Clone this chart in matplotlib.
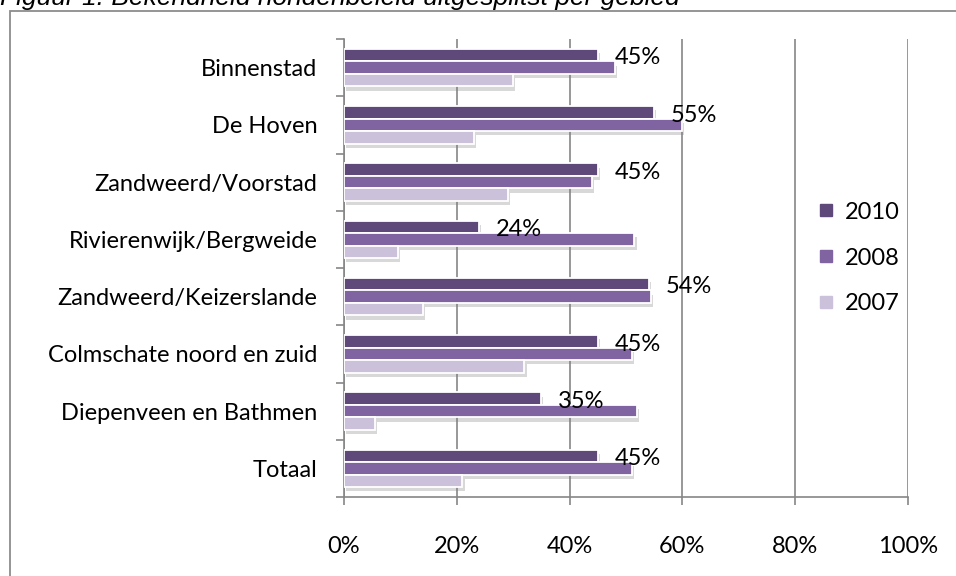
import matplotlib
matplotlib.use("Agg")
import matplotlib.pyplot as plt
import matplotlib.patheffects as pe
from matplotlib.lines import Line2D
from matplotlib.patches import Rectangle
import numpy as np

# data (share of respondents, %)
areas = ["Binnenstad", "De Hoven", "Zandweerd/Voorstad", "Rivierenwijk/Bergweide",
         "Zandweerd/Keizerslande", "Colmschate noord en zuid",
         "Diepenveen en Bathmen", "Totaal"]
years = ["2010", "2008", "2007"]
v2010 = [45, 55, 45, 24, 54, 45, 35, 45]
v2008 = [48, 60, 44, 51.5, 54.5, 51, 52, 51]
v2007 = [30, 23, 29, 9.5, 14, 32, 5.5, 21]
xticks = [0, 20, 40, 60, 80, 100]

COLORS = ["#5F497A", "#8064A2", "#CCC1DA"]
GRID = "#868686"
FONT = ["Lato", "DejaVu Sans"]
FS = 17

plt.rcParams["font.family"] = FONT

fig = plt.figure(figsize=(9.56, 5.76), dpi=100)
ax = fig.add_axes([344 / 956, 1 - 497 / 576, (908 - 344) / 956, (497 - 39) / 576])

# outer chart frame (cut off at the right/bottom of the picture)
fig.patches.append(Rectangle((10 / 956, -0.2), 1.2, 1 - 11 / 576 + 0.2,
                             transform=fig.transFigure, fill=False,
                             edgecolor="#8c8c8c", lw=1.3, zorder=0))
# caption above the chart, its top half is cut off in the source too
fig.text(0.0, 1 - 5 / 576, "Figuur 1: Bekendheid hondenbeleid uitgesplitst per gebied",
         family=["Liberation Sans", "DejaVu Sans"], style="italic", fontsize=19,
         va="baseline", ha="left")

y = np.arange(len(areas))
h = 0.218
shadow = [pe.SimplePatchShadow(offset=(1.5, -3), shadow_rgbFace="#7f7f7f", alpha=0.3),
          pe.Normal()]
series = [v2010, v2008, v2007]
for i, (vals, col) in enumerate(zip(series, COLORS)):
    bars = ax.barh(y + (i - 1) * h, vals, height=h, color=col, edgecolor="white",
                   linewidth=1.3, zorder=3)
    for b in bars:
        b.set_path_effects(shadow)

# value labels for 2010 only
for yi, v in zip(y, v2010):
    ax.annotate(f"{v:.0f}%", (v, yi - h), xytext=(12, -2), textcoords="offset points",
                va="center", ha="left", fontsize=FS, zorder=5)

ax.set_xlim(0, 100)
ax.set_ylim(len(areas) - 0.5, -0.5)
ax.set_xticks(xticks)
ax.set_xticklabels([f"{t}%" for t in xticks])
ax.set_yticks(y)
ax.set_yticklabels(areas)
ax.set_yticks(np.arange(len(areas) + 1) - 0.5, minor=True)

ax.grid(axis="x", color=GRID, lw=1.2, zorder=0)
ax.set_axisbelow(True)
for s in ["top", "right"]:
    ax.spines[s].set_visible(False)
for s in ["left", "bottom"]:
    ax.spines[s].set_color(GRID)
    ax.spines[s].set_linewidth(1.2)

ax.tick_params(axis="y", which="major", length=0, pad=19, labelsize=FS)
ax.tick_params(axis="y", which="minor", length=6, width=1.2, color=GRID)
ax.tick_params(axis="x", which="major", length=6, width=1.2, color=GRID, pad=22,
               labelsize=FS)

handles = [Line2D([], [], marker="s", ls="", color=c, markersize=8) for c in COLORS]
fig.legend(handles, years, loc="center left", bbox_to_anchor=(793 / 956, 1 - 258 / 576),
           frameon=False, fontsize=FS, handletextpad=0.3, labelspacing=1.05,
           handlelength=1.0)

fig.savefig("out.png", dpi=100)
